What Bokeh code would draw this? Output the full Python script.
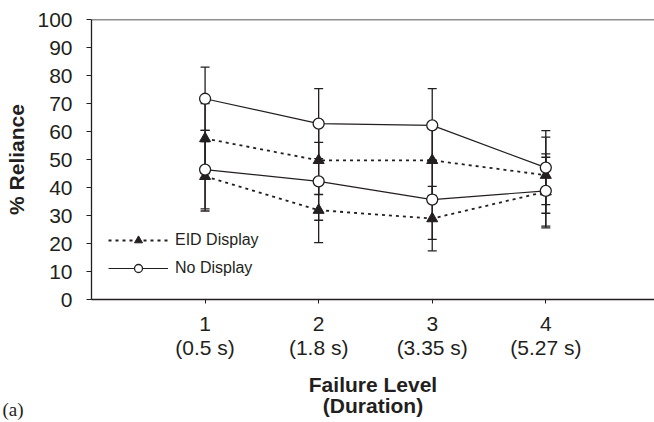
from bokeh.plotting import figure
from bokeh.models import (Range1d, FixedTicker, LinearAxis, Whisker, ColumnDataSource,
                          Legend, LegendItem, Span, Title, TeeHead)
from bokeh.embed import file_html
from bokeh.resources import INLINE

# ---- data ----
levels = [1, 2, 3, 4]
level_labels = ["1", "2", "3", "4"]
duration_labels = ["(0.5 s)", "(1.8 s)", "(3.35 s)", "(5.27 s)"]

eid_high = [57.5, 49.7, 49.7, 44.4]
eid_high_err = [12.5, 12.2, 12.5, 13.6]
eid_low = [44.0, 31.9, 28.9, 38.5]
eid_low_err = [12.4, 11.6, 11.5, 12.3]

nd_high = [71.7, 62.8, 62.2, 47.1]
nd_high_err = [11.3, 12.5, 13.1, 13.2]
nd_low = [46.4, 42.2, 35.7, 38.8]
nd_low_err = [14.0, 13.9, 14.2, 13.2]

INK = "#231f20"
FONT = "Liberation Sans"

p = figure(width=654, height=422, output_backend="svg", toolbar_location=None,
           x_range=Range1d(0, 4.957), y_range=Range1d(0, 100),
           min_border_left=91, min_border_right=0, min_border_top=19, min_border_bottom=0)
p.xgrid.visible = False
p.ygrid.visible = False
p.outline_line_color = None
p.background_fill_color = "white"

# ---- y axis ----
ya = p.yaxis[0]
ya.ticker = FixedTicker(ticks=list(range(0, 101, 10)))
ya.major_tick_in = 0
ya.major_tick_out = 5
ya.major_tick_line_color = INK
ya.axis_line_color = INK
ya.axis_line_width = 1.3
ya.major_label_text_font = FONT
ya.major_label_text_font_size = "21px"
ya.major_label_text_color = INK
ya.major_label_standoff = 14
ya.axis_label = "% Reliance"
ya.axis_label_text_font = FONT
ya.axis_label_text_font_style = "bold"
ya.axis_label_text_font_size = "21px"
ya.axis_label_text_color = INK
ya.axis_label_standoff = 6

# ---- x axis (level numbers) ----
xa = p.xaxis[0]
xa.ticker = FixedTicker(ticks=levels)
xa.major_label_overrides = {lv: lab for lv, lab in zip(levels, level_labels)}
xa.major_tick_in = 0
xa.major_tick_out = 4
xa.major_tick_line_color = INK
xa.axis_line_color = INK
xa.axis_line_width = 1.3
xa.major_label_text_font = FONT
xa.major_label_text_font_size = "21px"
xa.major_label_text_color = INK
xa.major_label_standoff = 13

# ---- second x axis (durations + title) ----
xa2 = LinearAxis(ticker=FixedTicker(ticks=levels),
                 major_label_overrides={lv: lab for lv, lab in zip(levels, duration_labels)})
xa2.axis_line_color = None
xa2.major_tick_line_color = None
xa2.major_tick_in = 0
xa2.major_tick_out = 0
xa2.major_label_text_font = FONT
xa2.major_label_text_font_size = "21px"
xa2.major_label_text_color = INK
xa2.major_label_standoff = 2
xa2.axis_label = "Failure Level\n(Duration)"
xa2.axis_label_text_font = FONT
xa2.axis_label_text_font_style = "bold"
xa2.axis_label_text_font_size = "21px"
xa2.axis_label_text_line_height = 0.92
xa2.axis_label_text_color = INK
xa2.axis_label_standoff = 11
p.add_layout(xa2, "below")

# panel tag "(a)" at the bottom-left corner (zero-height panel)
tag = Title(text="(a)\n ", align="left", vertical_align="top", offset=-89, standoff=-42,
            text_font="Liberation Serif", text_font_style="normal",
            text_font_size="19px", text_line_height=1.05, text_color=INK)
p.add_layout(tag, "below")

# top border
p.add_layout(Span(location=100, dimension="width", line_color=INK, line_width=1.3))

# ---- lines ----
dash = "3 4"
r_eid_line = p.line(levels, eid_high, line_color=INK, line_width=1.8, line_dash=dash)
p.line(levels, eid_low, line_color=INK, line_width=1.8, line_dash=dash)
r_nd_line = p.line(levels, nd_high, line_color=INK, line_width=1.2)
p.line(levels, nd_low, line_color=INK, line_width=1.2)

# ---- error bars ----
series = [(eid_high, eid_high_err), (eid_low, eid_low_err),
          (nd_high, nd_high_err), (nd_low, nd_low_err)]
wx, wlo, whi = [], [], []
for vals, errs in series:
    for lv, v, e in zip(levels, vals, errs):
        wx.append(lv)
        wlo.append(v - e)
        whi.append(v + e)
wsrc = ColumnDataSource(dict(x=wx, lower=wlo, upper=whi))
wh = Whisker(source=wsrc, base="x", lower="lower", upper="upper", level="underlay",
             line_color=INK, line_width=1.3,
             upper_head=TeeHead(size=9, line_color=INK, line_width=1.3),
             lower_head=TeeHead(size=9, line_color=INK, line_width=1.3))
p.add_layout(wh)

# ---- markers ----
r_eid_m = p.scatter(levels, eid_high, marker="triangle", size=11, fill_color=INK, line_color=INK)
p.scatter(levels, eid_low, marker="triangle", size=11, fill_color=INK, line_color=INK)
r_nd_m = p.scatter(levels, nd_high, marker="circle", size=11, fill_color="white", line_color=INK, line_width=1.3)
p.scatter(levels, nd_low, marker="circle", size=11, fill_color="white", line_color=INK, line_width=1.3)

# ---- legend ----
legend = Legend(items=[LegendItem(label="EID Display", renderers=[r_eid_line, r_eid_m]),
                       LegendItem(label="No Display", renderers=[r_nd_line, r_nd_m])],
                location=(17, 21), orientation="vertical",
                glyph_width=60, glyph_height=20, label_height=20, spacing=8,
                label_standoff=7, padding=0, margin=0,
                border_line_color=None, background_fill_alpha=0,
                label_text_font=FONT, label_text_font_size="16px", label_text_color=INK)
p.add_layout(legend)

open("out.html", "w").write(file_html(p, INLINE))
